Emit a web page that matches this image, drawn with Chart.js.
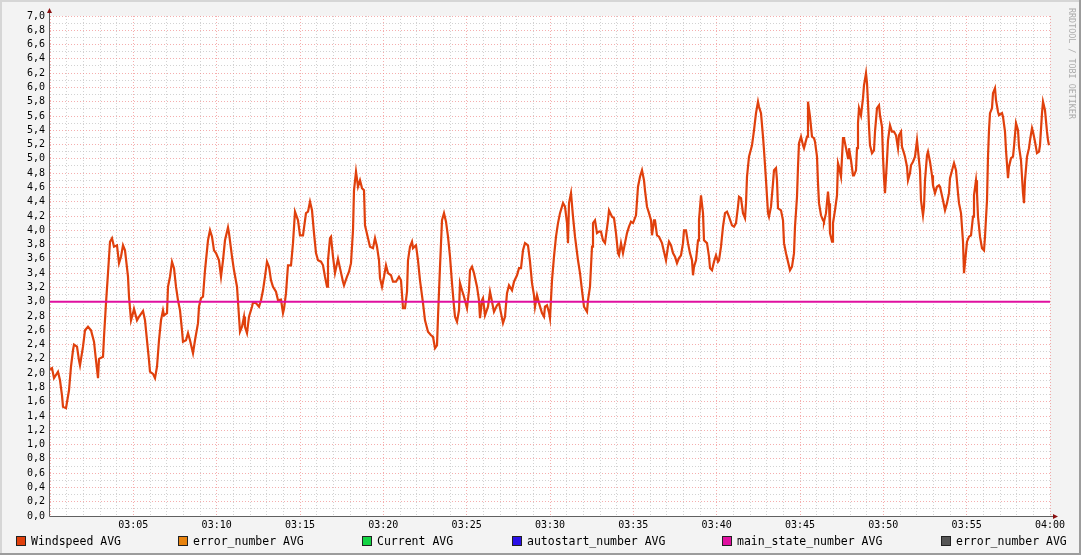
<!DOCTYPE html>
<html>
<head>
<meta charset="utf-8">
<script src="https://cdn.jsdelivr.net/npm/chart.js@4/dist/chart.umd.min.js"></script>
<style>
    body { margin: 0; background: #f3f3f3; }
    #wrap { position: relative; width: 1081px; height: 555px; }
    #rrdChart { position: absolute; left: 0; top: 0; }
    .legend-item { position: absolute; top: 535px; font: 11.5px "DejaVu Sans Mono", monospace; color: #000; white-space: nowrap; line-height: 12px; }
    .legend-item span.sw { display: inline-block; width: 8px; height: 8px; border: 1px solid #222; vertical-align: -1px; margin-right: 5px; }
</style>
</head>
<body>
<div id="wrap">
    <canvas id="rrdChart" width="1081" height="555"></canvas>
    <div id="legend"></div>
</div>
<script>
// minutes after 03:00
const minutes = [
    0.0, 0.12, 0.24, 0.48, 0.6, 0.72, 0.78, 0.96, 1.14, 1.26, 1.38, 1.44, 1.62, 1.74, 1.8, 1.98, 2.1, 2.28, 2.46, 2.64,
    2.76, 2.88, 2.94, 3.18, 3.24, 3.36, 3.48, 3.6, 3.72, 3.84, 4.02, 4.14, 4.26, 4.38, 4.5, 4.68, 4.74, 4.86, 4.98, 5.04,
    5.22, 5.34, 5.58, 5.7, 5.82, 5.94, 6.0, 6.18, 6.3, 6.42, 6.54, 6.66, 6.78, 6.84, 7.02, 7.08, 7.2, 7.32, 7.44, 7.56,
    7.68, 7.8, 7.92, 7.98, 8.16, 8.28, 8.4, 8.58, 8.7, 8.88, 8.94, 9.06, 9.18, 9.3, 9.48, 9.6, 9.72, 9.84, 9.96, 10.14,
    10.26, 10.38, 10.5, 10.68, 10.74, 10.92, 11.04, 11.22, 11.34, 11.4, 11.52, 11.64, 11.7, 11.82, 11.94, 12.12, 12.18, 12.36, 12.54, 12.66,
    12.78, 12.9, 13.02, 13.14, 13.26, 13.38, 13.56, 13.68, 13.86, 13.98, 14.04, 14.16, 14.28, 14.46, 14.58, 14.7, 14.88, 15.0,
    15.18, 15.36, 15.48, 15.6, 15.72, 15.84, 15.96, 16.08, 16.26, 16.38, 16.5, 16.62, 16.68, 16.8, 16.86, 16.98, 17.1, 17.28, 17.4, 17.58,
    17.64, 17.82, 17.94, 18.06, 18.18, 18.24, 18.36, 18.48, 18.6, 18.72, 18.84, 18.9, 19.08, 19.2, 19.38, 19.5, 19.62, 19.74, 19.8, 19.92,
    20.04, 20.16, 20.28, 20.46, 20.58, 20.76, 20.94, 21.06, 21.18, 21.3, 21.42, 21.48, 21.6, 21.72, 21.78, 21.96, 22.08, 22.2, 22.38, 22.5,
    22.68, 22.86, 22.98, 23.1, 23.22, 23.28, 23.4, 23.52, 23.64, 23.76, 23.88, 24.0, 24.12, 24.24, 24.3, 24.42, 24.54, 24.6, 24.72, 24.84,
    25.02, 25.14, 25.2, 25.32, 25.44, 25.62, 25.74, 25.8, 25.92, 25.98, 26.1, 26.28, 26.4, 26.52, 26.64, 26.82, 26.94, 27.06, 27.18, 27.3,
    27.42, 27.54, 27.72, 27.84, 28.02, 28.14, 28.26, 28.38, 28.5, 28.68, 28.8, 28.92, 29.04, 29.1, 29.22, 29.34, 29.52, 29.64, 29.7, 29.82,
    29.94, 30.0, 30.12, 30.24, 30.36, 30.48, 30.6, 30.78, 30.9, 31.02, 31.08, 31.14, 31.26, 31.38, 31.5, 31.68, 31.8, 31.92, 32.04, 32.22,
    32.28, 32.4, 32.52, 32.58, 32.7, 32.82, 32.94, 33.06, 33.18, 33.3, 33.48, 33.54, 33.72, 33.84, 33.96, 34.08, 34.14, 34.26, 34.38, 34.44,
    34.62, 34.74, 34.86, 34.98, 35.16, 35.28, 35.4, 35.52, 35.64, 35.7, 35.82, 35.94, 36.06, 36.12, 36.24, 36.3, 36.42, 36.54, 36.72, 36.84,
    36.96, 37.08, 37.14, 37.26, 37.38, 37.5, 37.62, 37.74, 37.86, 37.98, 38.04, 38.16, 38.28, 38.4, 38.52, 38.58, 38.64, 38.76, 38.88, 38.94,
    39.06, 39.18, 39.24, 39.42, 39.54, 39.6, 39.72, 39.84, 39.96, 40.08, 40.14, 40.26, 40.38, 40.5, 40.62, 40.74, 40.92, 41.04, 41.16, 41.28,
    41.34, 41.46, 41.58, 41.7, 41.76, 41.82, 41.94, 42.12, 42.24, 42.36, 42.48, 42.54, 42.66, 42.78, 42.84, 42.96, 43.08, 43.14, 43.26, 43.38,
    43.44, 43.56, 43.62, 43.68, 43.86, 43.98, 44.04, 44.16, 44.28, 44.4, 44.52, 44.64, 44.7, 44.82, 44.88, 44.94, 45.06, 45.18, 45.24, 45.42,
    45.48, 45.6, 45.72, 45.84, 45.9, 46.02, 46.08, 46.14, 46.26, 46.38, 46.44, 46.56, 46.68, 46.74, 46.8, 46.92, 46.98, 47.1, 47.22, 47.28,
    47.34, 47.46, 47.58, 47.64, 47.76, 47.88, 47.94, 48.06, 48.18, 48.24, 48.36, 48.42, 48.48, 48.54, 48.66, 48.78, 48.84, 48.96, 49.02, 49.08,
    49.14, 49.2, 49.32, 49.44, 49.5, 49.62, 49.74, 49.8, 49.92, 49.98, 50.04, 50.1, 50.22, 50.28, 50.4, 50.52, 50.64, 50.76, 50.88, 50.94,
    51.06, 51.12, 51.24, 51.3, 51.42, 51.48, 51.6, 51.66, 51.78, 51.9, 52.02, 52.08, 52.2, 52.26, 52.38, 52.44, 52.5, 52.62, 52.68, 52.8,
    52.92, 52.98, 53.1, 53.22, 53.34, 53.4, 53.58, 53.7, 53.82, 53.94, 54.0, 54.18, 54.24, 54.36, 54.48, 54.54, 54.66, 54.78, 54.84, 54.9,
    55.02, 55.14, 55.26, 55.38, 55.44, 55.56, 55.62, 55.68, 55.8, 55.92, 56.04, 56.1, 56.22, 56.28, 56.34, 56.4, 56.52, 56.58, 56.7, 56.76,
    56.88, 56.94, 57.12, 57.18, 57.3, 57.36, 57.48, 57.54, 57.66, 57.78, 57.84, 57.96, 58.08, 58.14, 58.26, 58.38, 58.44, 58.5, 58.62, 58.74,
    58.8, 58.92, 58.98, 59.1, 59.22, 59.34, 59.4, 59.52, 59.58, 59.7, 59.82, 59.88, 59.94
];

const windspeed = [
    2.05, 2.07, 1.93, 2.02, 1.9, 1.69, 1.53, 1.51, 1.76, 2.09, 2.32, 2.4, 2.37, 2.18, 2.11, 2.37, 2.6, 2.65, 2.6, 2.44,
    2.18, 1.93, 2.2, 2.23, 2.51, 2.98, 3.4, 3.84, 3.89, 3.77, 3.79, 3.54, 3.63, 3.79, 3.72, 3.35, 3.07, 2.74, 2.84, 2.9,
    2.74, 2.79, 2.87, 2.74, 2.46, 2.18, 2.02, 1.99, 1.93, 2.09, 2.46, 2.74, 2.88, 2.81, 2.84, 3.21, 3.35, 3.56, 3.47, 3.21,
    3.02, 2.88, 2.6, 2.44, 2.46, 2.56, 2.46, 2.28, 2.46, 2.7, 2.93, 3.05, 3.07, 3.44, 3.86, 4.0, 3.91, 3.72, 3.68, 3.58,
    3.35, 3.58, 3.86, 4.04, 3.96, 3.63, 3.44, 3.21, 2.79, 2.58, 2.65, 2.79, 2.65, 2.56, 2.79, 2.93, 2.99, 2.98, 2.93, 3.02,
    3.16, 3.35, 3.56, 3.49, 3.3, 3.21, 3.14, 3.02, 3.03, 2.84, 2.9, 3.12, 3.51, 3.51, 3.82, 4.26, 4.14, 3.93,
    3.93, 4.24, 4.26, 4.4, 4.28, 3.96, 3.68, 3.58, 3.56, 3.51, 3.35, 3.21, 3.58, 3.89, 3.91, 3.63, 3.4, 3.6, 3.47, 3.28,
    3.23, 3.35, 3.42, 3.54, 4.0, 4.56, 4.82, 4.61, 4.7, 4.59, 4.56, 4.07, 3.89, 3.77, 3.75, 3.89, 3.77, 3.58, 3.33, 3.21,
    3.35, 3.51, 3.4, 3.37, 3.28, 3.28, 3.35, 3.3, 2.91, 2.91, 3.14, 3.58, 3.77, 3.84, 3.75, 3.79, 3.58, 3.3, 2.98, 2.74,
    2.58, 2.53, 2.51, 2.35, 2.39, 2.79, 3.49, 4.14, 4.24, 4.12, 3.91, 3.63, 3.26, 2.93, 2.79, 2.72, 2.88, 3.26, 3.16, 3.07,
    2.91, 3.16, 3.44, 3.49, 3.4, 3.21, 3.02, 2.77, 3.02, 3.05, 2.81, 2.93, 3.14, 3.0, 2.86, 2.95, 2.98, 2.84, 2.7, 2.79,
    3.12, 3.23, 3.16, 3.28, 3.37, 3.47, 3.47, 3.72, 3.82, 3.79, 3.56, 3.26, 3.09, 2.93, 3.09, 2.98, 2.84, 2.79, 2.93, 2.95,
    2.85, 2.77, 3.3, 3.63, 3.91, 4.1, 4.24, 4.38, 4.33, 4.1, 3.82, 4.38, 4.52, 4.19, 3.91, 3.58, 3.4, 3.16, 2.93, 2.86,
    3.02, 3.21, 3.77, 4.1, 4.14, 3.96, 3.98, 3.98, 3.86, 3.82, 4.14, 4.28, 4.19, 4.17, 3.96, 3.68, 3.65, 3.82, 3.68, 3.75,
    3.96, 4.05, 4.12, 4.1, 4.21, 4.61, 4.75, 4.84, 4.7, 4.56, 4.33, 4.24, 4.14, 3.93, 4.14, 4.14, 3.93, 3.91, 3.82, 3.7,
    3.58, 3.77, 3.84, 3.79, 3.68, 3.63, 3.54, 3.61, 3.65, 3.82, 4.0, 4.0, 3.82, 3.68, 3.58, 3.37, 3.49, 3.58, 3.86, 4.14,
    4.49, 4.24, 3.86, 3.82, 3.63, 3.47, 3.44, 3.56, 3.65, 3.56, 3.58, 3.77, 4.05, 4.24, 4.26, 4.19, 4.07, 4.05, 4.1, 4.33,
    4.47, 4.45, 4.24, 4.17, 4.38, 4.75, 5.03, 5.19, 5.4, 5.64, 5.8, 5.73, 5.64, 5.31, 5.12, 4.7, 4.24, 4.19, 4.33, 4.66,
    4.84, 4.87, 4.7, 4.31, 4.28, 4.14, 3.82, 3.68, 3.56, 3.44, 3.49, 3.68, 4.05, 4.47, 4.89, 5.22, 5.31, 5.19, 5.15, 5.31,
    5.8, 5.59, 5.31, 5.29, 5.24, 5.03, 4.66, 4.38, 4.21, 4.14, 4.12, 4.24, 4.54, 4.38, 3.96, 3.84, 4.1, 4.28, 4.49, 4.94,
    4.89, 4.75, 5.29, 5.29, 5.15, 5.01, 5.15, 4.98, 4.77, 4.77, 4.84, 5.15, 5.5, 5.71, 5.61, 5.85, 6.03, 6.2, 6.06, 5.78,
    5.45, 5.19, 5.08, 5.12, 5.38, 5.71, 5.75, 5.61, 5.45, 5.03, 4.73, 4.52, 4.98, 5.26, 5.47, 5.38, 5.38, 5.33, 5.15, 5.33,
    5.38, 5.17, 5.08, 5.03, 4.89, 4.7, 4.8, 4.91, 4.96, 5.03, 5.26, 5.12, 4.84, 4.42, 4.21, 4.33, 4.7, 5.05, 5.1, 4.96,
    4.77, 4.63, 4.52, 4.61, 4.63, 4.61, 4.42, 4.28, 4.38, 4.52, 4.73, 4.89, 4.94, 4.84, 4.52, 4.38, 4.24, 3.84, 3.4, 3.4,
    3.84, 3.91, 3.93, 4.19, 4.49, 4.7, 4.52, 4.19, 3.91, 3.75, 3.72, 3.91, 4.42, 5.03, 5.4, 5.64, 5.71, 5.92, 5.99, 5.82,
    5.66, 5.61, 5.64, 5.59, 5.38, 5.12, 4.73, 4.89, 5.01, 5.03, 5.17, 5.5, 5.4, 5.17, 4.98, 4.52, 4.38, 4.7, 5.03, 5.15,
    5.26, 5.43, 5.38, 5.24, 5.08, 5.1, 5.19, 5.64, 5.8, 5.68, 5.38, 5.26, 5.19
];

// main_state_number AVG is flat at 3
const mainStateMinutes = [0, 60];
const mainState = [3.0, 3.0];

const xTickLabels = ['03:05', '03:10', '03:15', '03:20', '03:25', '03:30', '03:35', '03:40', '03:45', '03:50', '03:55', '04:00'];

const legendNames = ['Windspeed AVG', 'error_number AVG', 'Current AVG', 'autostart_number AVG', 'main_state_number AVG', 'error_number AVG'];
const legendColors = ['#e0400c', '#e8830e', '#14d444', '#2a10e8', '#e010a0', '#555555'];
const legendLeft = [16, 178, 362, 512, 722, 941];

// build html legend
const legendEl = document.getElementById('legend');
legendNames.forEach((name, i) => {
    const item = document.createElement('div');
    item.className = 'legend-item';
    item.style.left = legendLeft[i] + 'px';
    item.innerHTML = `<span class="sw" style="background:${legendColors[i]}"></span>${name}`;
    legendEl.appendChild(item);
});

const isMajorY = v => Math.round(v * 10) % 2 === 0;
const isMajorX = v => Math.round(v) % 5 === 0;

// frame, white canvas, axes, arrows, watermark
const rrdLook = {
    id: 'rrdLook',
    beforeDraw(chart) {
        const ctx = chart.ctx;
        const a = chart.chartArea;
        ctx.save();
        ctx.fillStyle = '#f3f3f3';
        ctx.fillRect(0, 0, chart.width, chart.height);
        ctx.fillStyle = '#d6d6d6';
        ctx.fillRect(0, 0, chart.width, 2);
        ctx.fillRect(0, 0, 2, chart.height);
        ctx.fillStyle = '#9c9c9c';
        ctx.fillRect(0, chart.height - 2, chart.width, 2);
        ctx.fillRect(chart.width - 2, 0, 2, chart.height);
        ctx.fillStyle = '#ffffff';
        ctx.fillRect(a.left, a.top, a.right - a.left, a.bottom - a.top);
        ctx.restore();
    },
    afterDraw(chart) {
        const ctx = chart.ctx;
        const a = chart.chartArea;
        ctx.save();
        ctx.strokeStyle = '#606060';
        ctx.lineWidth = 1;
        ctx.beginPath();
        ctx.moveTo(a.left - 0.5, a.bottom + 0.5);
        ctx.lineTo(a.right + 3, a.bottom + 0.5);
        ctx.moveTo(a.left - 0.5, a.bottom + 0.5);
        ctx.lineTo(a.left - 0.5, a.top - 3);
        ctx.stroke();
        ctx.fillStyle = '#8b1010';
        ctx.beginPath();
        ctx.moveTo(a.left - 0.5, a.top - 8);
        ctx.lineTo(a.left - 3, a.top - 3);
        ctx.lineTo(a.left + 2, a.top - 3);
        ctx.closePath();
        ctx.fill();
        ctx.beginPath();
        ctx.moveTo(a.right + 8, a.bottom + 0.5);
        ctx.lineTo(a.right + 3, a.bottom - 2);
        ctx.lineTo(a.right + 3, a.bottom + 3);
        ctx.closePath();
        ctx.fill();
        // watermark
        ctx.translate(1071, 8);
        ctx.rotate(Math.PI / 2);
        ctx.fillStyle = '#ababab';
        ctx.font = '8.4px "DejaVu Sans Mono", monospace';
        ctx.textBaseline = 'middle';
        ctx.fillText('RRDTOOL / TOBI OETIKER', 0, 0);
        ctx.restore();
    }
};

const ctx = document.getElementById('rrdChart').getContext('2d');
new Chart(ctx, {
    type: 'line',
    data: {
        datasets: [
            {
                label: 'Windspeed AVG',
                data: minutes.map((m, i) => ({ x: m, y: windspeed[i] })),
                borderColor: legendColors[0],
                borderWidth: 2.2,
                pointRadius: 0,
                tension: 0,
                order: 1
            },
            {
                label: 'main_state_number AVG',
                data: mainStateMinutes.map((m, i) => ({ x: m, y: mainState[i] })),
                borderColor: legendColors[4],
                borderWidth: 2,
                pointRadius: 0,
                tension: 0,
                order: 0
            }
        ]
    },
    options: {
        responsive: false,
        animation: false,
        layout: {
            padding: { left: 0, top: 16, right: 31, bottom: 0 }
        },
        plugins: {
            legend: { display: false },
            tooltip: { enabled: false }
        },
        scales: {
            x: {
                type: 'linear',
                min: 0,
                max: 60,
                afterFit: s => { s.height = 39; },
                ticks: {
                    stepSize: 1,
                    autoSkip: false,
                    maxRotation: 0,
                    padding: 3,
                    color: '#000',
                    font: { family: 'DejaVu Sans Mono', size: 10 },
                    callback: v => (v > 0 && isMajorX(v)) ? xTickLabels[Math.round(v) / 5 - 1] : ''
                },
                grid: {
                    drawTicks: false,
                    lineWidth: 1,
                    color: c => isMajorX(c.tick.value) ? 'rgba(240,130,130,0.65)' : 'rgba(195,195,195,0.75)'
                },
                border: { display: false, dash: [1, 2] }
            },
            y: {
                min: 0,
                max: 7,
                afterFit: s => { s.width = 50; },
                ticks: {
                    stepSize: 0.1,
                    autoSkip: false,
                    padding: 5,
                    color: '#000',
                    font: { family: 'DejaVu Sans Mono', size: 10 },
                    callback: v => isMajorY(v) ? v.toFixed(1).replace('.', ',') : ''
                },
                grid: {
                    drawTicks: false,
                    lineWidth: 1,
                    color: c => isMajorY(c.tick.value) ? 'rgba(240,130,130,0.65)' : 'rgba(195,195,195,0.75)'
                },
                border: { display: false, dash: [1, 2] }
            }
        }
    },
    plugins: [rrdLook]
});
</script>
</body>
</html>
